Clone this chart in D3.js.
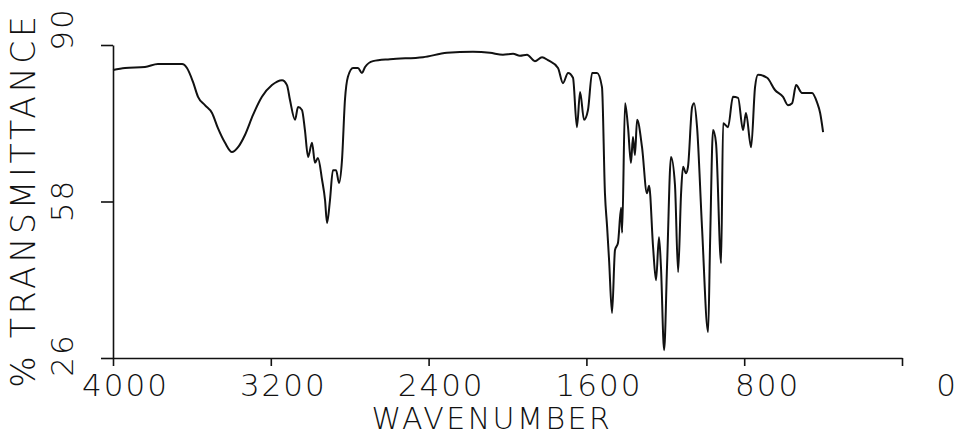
<!DOCTYPE html>
<html>
<head>
<meta charset="utf-8">
<script src="https://cdn.jsdelivr.net/npm/d3@7"></script>
<style>
  html, body { margin: 0; padding: 0; background: #fff; }
  svg { display: block; }
  .lbl { font-family: "DejaVu Sans", sans-serif; font-weight: 200; fill: #111; }
</style>
</head>
<body>
<div id="chart"></div>
<script>
// spectrum (wavenumber in cm-1, % transmittance)
const wavenumber = [
  4000, 3939, 3838, 3772, 3650, 3625, 3594, 3569, 3534, 3498,
  3468, 3432, 3397, 3366, 3331, 3290, 3245, 3194, 3143, 3118,
  3103, 3077, 3062, 3042, 3027, 3011, 2991, 2976, 2961, 2940,
  2925, 2915, 2900, 2885, 2869, 2854, 2839, 2824, 2809, 2783,
  2758, 2738, 2722, 2682, 2596, 2428, 2307, 2175, 2089, 2023,
  1972, 1937, 1901, 1861, 1825, 1795, 1744, 1719, 1693, 1668,
  1648, 1632, 1612, 1592, 1571, 1546, 1521, 1506, 1495, 1485,
  1470, 1455, 1440, 1424, 1419, 1404, 1389, 1374, 1364, 1354,
  1343, 1318, 1293, 1282, 1262, 1247, 1232, 1222, 1206, 1191,
  1171, 1151, 1135, 1120, 1110, 1095, 1085, 1064, 1054, 1039,
  1014, 983, 973, 958, 943, 917, 907, 882, 857, 831,
  806, 791, 765, 745, 730, 684, 644, 603, 578, 557,
  537, 507, 456, 431, 415, 400
];
const transmittance = [
  84.9, 85.3, 85.5, 86.1, 86.1, 85.3, 82.4, 79.4, 77.7, 76.1,
  73.0, 70.0, 68.1, 69.1, 71.6, 75.7, 79.4, 81.8, 82.8, 81.8,
  78.8, 74.7, 77.3, 76.7, 72.6, 67.1, 70.0, 65.9, 66.9, 62.4,
  58.3, 53.6, 58.3, 64.4, 64.4, 61.8, 66.5, 78.8, 83.5, 85.3,
  85.3, 84.3, 85.5, 86.7, 87.1, 87.5, 88.4, 88.6, 88.4, 88.0,
  88.2, 87.8, 88.0, 86.7, 87.5, 86.9, 85.3, 82.2, 84.3, 83.3,
  73.2, 80.4, 74.7, 76.7, 84.3, 84.3, 81.4, 59.7, 52.8, 46.0,
  35.2, 48.1, 49.5, 56.7, 51.6, 78.1, 73.2, 65.9, 71.2, 67.5,
  74.7, 69.1, 59.7, 61.2, 48.7, 41.9, 50.7, 44.6, 27.6, 45.0,
  67.1, 61.4, 43.6, 59.7, 65.1, 63.8, 65.1, 77.3, 78.1, 73.2,
  52.8, 31.3, 49.5, 72.6, 70.0, 45.4, 74.0, 73.2, 79.4, 79.2,
  72.6, 76.1, 69.1, 81.4, 83.9, 83.3, 80.8, 79.4, 77.7, 78.1,
  81.8, 80.2, 80.2, 78.3, 76.1, 72.2
];
const xTicks = [4000, 3200, 2400, 1600, 800, 0];
const yTicks = [26, 58, 90];
const xTitle = "WAVENUMBER";
const yTitle = "% TRANSMITTANCE";

const width = 962;
const height = 439;

const svg = d3.select("#chart").append("svg")
  .attr("width", width)
  .attr("height", height);

const x = d3.scaleLinear().domain([4000, 0]).range([113, 902]);
const y = d3.scaleLinear().domain([26, 90]).range([358, 45]);

// y axis: outward ticks to the left, no labels from the generator
svg.append("g")
  .attr("transform", `translate(${x(4000)}, 0)`)
  .call(d3.axisLeft(y).tickValues(yTicks).tickSize(12).tickSizeOuter(0).tickFormat(""));

// x axis: ticks down
svg.append("g")
  .attr("transform", `translate(0, ${y(26)})`)
  .call(d3.axisBottom(x).tickValues(xTicks).tickSize(8).tickSizeOuter(0).tickFormat(""));

svg.selectAll(".domain, .tick line")
  .attr("stroke", "#111")
  .attr("stroke-width", 1.6);

// x tick labels sit right-aligned past the tick, plotter style
svg.append("g")
  .selectAll("text")
  .data(xTicks)
  .join("text")
  .attr("class", "lbl")
  .attr("x", d => x(d) + 56)
  .attr("y", 396)
  .attr("text-anchor", "end")
  .attr("font-size", 31)
  .attr("letter-spacing", 2)
  .text(d => d);

// rotated y tick labels
const yLabelNudge = { 26: -3, 58: -1, 90: -16 };
svg.append("g")
  .selectAll("text")
  .data(yTicks)
  .join("text")
  .attr("class", "lbl")
  .attr("transform", d => `translate(73, ${y(d) + yLabelNudge[d]}) rotate(-90)`)
  .attr("text-anchor", "middle")
  .attr("font-size", 31)
  .attr("letter-spacing", 2)
  .text(d => d);

svg.append("text")
  .attr("class", "lbl")
  .attr("x", 492)
  .attr("y", 429)
  .attr("text-anchor", "middle")
  .attr("font-size", 30)
  .attr("letter-spacing", 2.5)
  .text(xTitle);

svg.append("text")
  .attr("class", "lbl")
  .attr("transform", "translate(35, 200) rotate(-90)")
  .attr("text-anchor", "middle")
  .attr("font-size", 33)
  .attr("letter-spacing", 3.8)
  .text(yTitle);

const points = wavenumber.map((w, i) => ({ w: w, t: transmittance[i] }));

const line = d3.line()
  .x(d => x(d.w))
  .y(d => y(d.t))
  .curve(d3.curveMonotoneX);

svg.append("path")
  .datum(points)
  .attr("fill", "none")
  .attr("stroke", "#111")
  .attr("stroke-width", 2)
  .attr("stroke-linejoin", "round")
  .attr("d", line);
</script>
</body>
</html>
